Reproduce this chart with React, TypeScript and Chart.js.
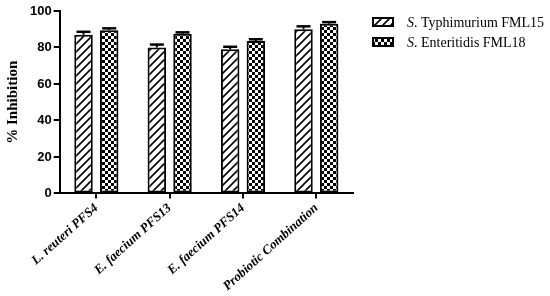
import React, { useEffect, useRef } from 'react';
import { Chart, registerables } from 'chart.js';

Chart.register(...registerables);

const categories = ['L. reuteri PFS4', 'E. faecium PFS13', 'E. faecium PFS14', 'Probiotic Combination'];
const typhimurium = [87, 80, 79, 90];
const typhimuriumErr = [1.6, 1.6, 1.4, 1.6];
const enteritidis = [89.5, 87.5, 83.5, 93];
const enteritidisErr = [1.0, 0.8, 1.0, 0.9];
const seriesNames = ['Typhimurium FML15', 'Enteritidis FML18'];
const yMin = 0;
const yMax = 100;
const yStep = 20;

function makeHatch(): CanvasPattern | string {
  const c = document.createElement('canvas');
  c.width = 8;
  c.height = 8;
  const ctx = c.getContext('2d');
  if (!ctx) return '#fff';
  ctx.fillStyle = '#fff';
  ctx.fillRect(0, 0, 8, 8);
  ctx.strokeStyle = '#000';
  ctx.lineWidth = 1.6;
  ctx.beginPath();
  ctx.moveTo(-2, 10); ctx.lineTo(10, -2);
  ctx.moveTo(-2, 2); ctx.lineTo(2, -2);
  ctx.moveTo(6, 10); ctx.lineTo(10, 6);
  ctx.stroke();
  return ctx.createPattern(c, 'repeat') || '#fff';
}

function makeChecker(): CanvasPattern | string {
  const c = document.createElement('canvas');
  c.width = 6;
  c.height = 6;
  const ctx = c.getContext('2d');
  if (!ctx) return '#000';
  ctx.fillStyle = '#fff';
  ctx.fillRect(0, 0, 6, 6);
  ctx.fillStyle = '#000';
  ctx.fillRect(0, 0, 3, 3);
  ctx.fillRect(3, 3, 3, 3);
  return ctx.createPattern(c, 'repeat') || '#000';
}

export default function App() {
  const ref = useRef<HTMLCanvasElement | null>(null);
  useEffect(() => {
    if (!ref.current) return;
    const hatch = makeHatch();
    const checker = makeChecker();
    const errs = [typhimuriumErr, enteritidisErr];
    const fills = [hatch, checker];

    const errorBars = {
      id: 'errorBars',
      afterDatasetsDraw(chart: any) {
        const ctx = chart.ctx;
        const y = chart.scales.y;
        ctx.save();
        ctx.strokeStyle = '#000';
        chart.data.datasets.forEach((ds: any, di: number) => {
          const meta = chart.getDatasetMeta(di);
          meta.data.forEach((bar: any, i: number) => {
            const v = ds.data[i];
            const top = y.getPixelForValue(v + errs[di][i]);
            const base = y.getPixelForValue(v);
            ctx.lineWidth = 2;
            ctx.beginPath();
            ctx.moveTo(bar.x, base);
            ctx.lineTo(bar.x, top);
            ctx.stroke();
            ctx.lineWidth = 2.5;
            ctx.beginPath();
            ctx.moveTo(bar.x - 7, top);
            ctx.lineTo(bar.x + 7, top);
            ctx.stroke();
          });
        });
        ctx.restore();
      },
    };

    const customLegend = {
      id: 'customLegend',
      afterDraw(chart: any) {
        const ctx = chart.ctx;
        ctx.save();
        const x0 = 373;
        const rows = [22, 42];
        rows.forEach((cy, i) => {
          ctx.fillStyle = fills[i];
          ctx.fillRect(x0, cy - 4, 20, 8);
          ctx.strokeStyle = '#000';
          ctx.lineWidth = 2;
          ctx.strokeRect(x0, cy - 4, 20, 8);
          ctx.fillStyle = '#000';
          ctx.textBaseline = 'middle';
          ctx.font = 'italic 14px "Liberation Serif"';
          const tx = 407;
          ctx.fillText('S', tx, cy + 1);
          const w = ctx.measureText('S').width;
          ctx.font = '14px "Liberation Serif"';
          ctx.fillText('. ' + seriesNames[i], tx + w, cy + 1);
        });
        ctx.restore();
      },
    };

    const chart = new Chart(ref.current, {
      type: 'bar',
      data: {
        labels: categories,
        datasets: [
          {
            label: 'S. ' + seriesNames[0],
            data: typhimurium,
            backgroundColor: hatch as any,
            borderColor: '#000',
            borderWidth: 2,
            borderSkipped: false,
          },
          {
            label: 'S. ' + seriesNames[1],
            data: enteritidis,
            backgroundColor: checker as any,
            borderColor: '#000',
            borderWidth: 2,
            borderSkipped: false,
          },
        ],
      },
      options: {
        animation: false,
        responsive: false,
        maintainAspectRatio: false,
        datasets: { bar: { categoryPercentage: 0.7, barPercentage: 0.72 } },
        layout: { padding: { left: 4, right: 197, top: 11, bottom: 0 } },
        plugins: {
          legend: { display: false },
          tooltip: { enabled: false },
        },
        scales: {
          x: {
            offset: true,
            grid: { offset: false, drawOnChartArea: false, drawTicks: true, tickLength: 5, color: '#000', lineWidth: 2 },
            border: { display: true, color: '#000', width: 2 },
            ticks: {
              color: '#000',
              maxRotation: 42,
              minRotation: 42,
              autoSkip: false,
              padding: 2,
              font: { family: '"Liberation Serif"', size: 13, weight: 'bold', style: 'italic' },
            },
          },
          y: {
            min: yMin,
            max: yMax,
            ticks: {
              stepSize: yStep,
              color: '#000',
              padding: 2,
              font: { family: '"Liberation Sans"', size: 13, weight: 'bold' },
            },
            grid: { drawOnChartArea: false, drawTicks: true, tickLength: 6, color: '#000', lineWidth: 2 },
            border: { display: true, color: '#000', width: 2 },
            title: {
              display: true,
              text: '% Inhibition',
              color: '#000',
              padding: { top: 0, bottom: 6 },
              font: { family: '"Liberation Serif"', size: 15, weight: 'bold' },
            },
          },
        },
      },
      plugins: [errorBars, customLegend],
    });
    return () => chart.destroy();
  }, []);

  return (
    <div style={{ position: 'absolute', left: 0, top: 0, width: 550, height: 296 }}>
      <canvas ref={ref} width={550} height={296} style={{ width: 550, height: 296 }} />
    </div>
  );
}
